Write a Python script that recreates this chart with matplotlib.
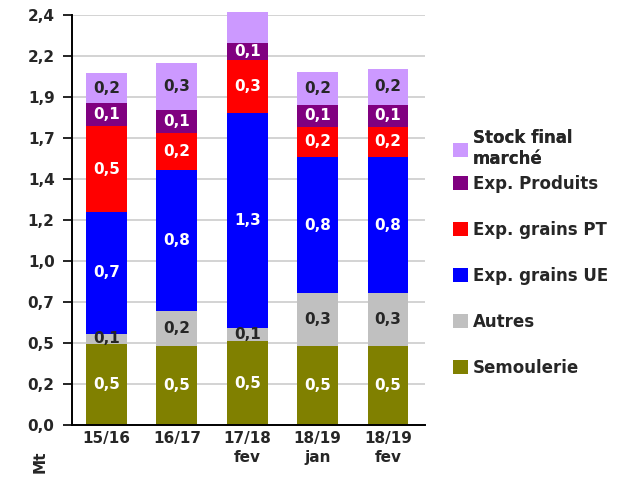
import matplotlib
matplotlib.use("Agg")
import matplotlib.pyplot as plt
import numpy as np

plt.rcParams["font.family"] = ["DejaVu Sans"]
plt.rcParams["font.weight"] = "bold"

# data (Mt)
campaigns = ["15/16", "16/17", "17/18\nfev", "18/19\njan", "18/19\nfev"]
semoulerie = [0.474, 0.46, 0.49, 0.46, 0.46]
autres = [0.06, 0.205, 0.078, 0.31, 0.31]
exp_ue = [0.714, 0.826, 1.26, 0.80, 0.80]
exp_pt = [0.50, 0.22, 0.31, 0.175, 0.175]
exp_produits = [0.135, 0.13, 0.10, 0.13, 0.13]
stock_final = [0.175, 0.28, 0.18, 0.19, 0.21]

series = [
    ("Semoulerie", semoulerie, "#808000", "white"),
    ("Autres", autres, "#C0C0C0", "#262626"),
    ("Exp. grains UE", exp_ue, "#0000FF", "white"),
    ("Exp. grains PT", exp_pt, "#FF0000", "white"),
    ("Exp. Produits", exp_produits, "#800080", "white"),
    ("Stock final\nmarché", stock_final, "#CC99FF", "#262626"),
]

ytick_labels = ["0,0", "0,2", "0,5", "0,7", "1,0", "1,2", "1,4", "1,7", "1,9", "2,2", "2,4"]
ymax = 2.4
txt = "#262626"

fig = plt.figure(figsize=(6.33, 4.79), dpi=100)
ax = fig.add_axes([0.1137, 0.1127, 0.557, 0.856])

x = np.arange(len(campaigns))
bottom = np.zeros(len(campaigns))
handles = []
for name, vals, color, txt_color in series:
    vals = np.array(vals)
    bars = ax.bar(x, vals, 0.58, bottom=bottom, color=color, label=name,
                  zorder=3, clip_on=False)
    handles.append(bars)
    for xi, b, v in zip(x, bottom, vals):
        if b + v > ymax:
            continue  # label of the clipped top segment is not shown
        ax.text(xi, b + v / 2, f"{round(v, 1):.1f}".replace(".", ","),
                ha="center", va="center", color=txt_color,
                fontsize=11, fontweight="bold", zorder=4)
    bottom = bottom + vals

ax.set_xlim(-0.49, 4.52)
ax.set_ylim(0, ymax)
ax.set_yticks(np.linspace(0, ymax, len(ytick_labels)))
ax.set_yticklabels(ytick_labels)
ax.set_xticks(x)
ax.set_xticklabels(campaigns, linespacing=1.35)
ax.tick_params(axis="y", length=6.5, width=1.2, pad=6, labelsize=11,
               labelcolor=txt)
ax.tick_params(axis="x", length=0, pad=4, labelsize=11, labelcolor=txt)
ax.grid(axis="y", color="#CCCCCC", lw=1.2, zorder=0)
for side in ("top", "right"):
    ax.spines[side].set_visible(False)
for side in ("left", "bottom"):
    ax.spines[side].set_linewidth(1.4)
    ax.spines[side].set_zorder(5)

fig.text(40 / 633, 1 - 462 / 479, "Mt", rotation=90, ha="center", va="center",
         fontsize=11, fontweight="bold", color=txt)

leg_kw = dict(loc="upper left", frameon=False, fontsize=12, handlelength=0.9,
              handleheight=0.9, handletextpad=0.3, borderpad=0, borderaxespad=0,
              labelcolor=txt)
names = [s[0] for s in series]
# top entry (two lines) sits apart from the others
leg1 = fig.legend([handles[-1]], [names[-1]], bbox_to_anchor=(453 / 633, 1 - 129 / 479),
                  **leg_kw)
fig.add_artist(leg1)
fig.legend(handles[-2::-1], names[-2::-1], bbox_to_anchor=(453 / 633, 1 - 175 / 479),
           labelspacing=1.68, **leg_kw)

fig.savefig("out.png", dpi=100)
